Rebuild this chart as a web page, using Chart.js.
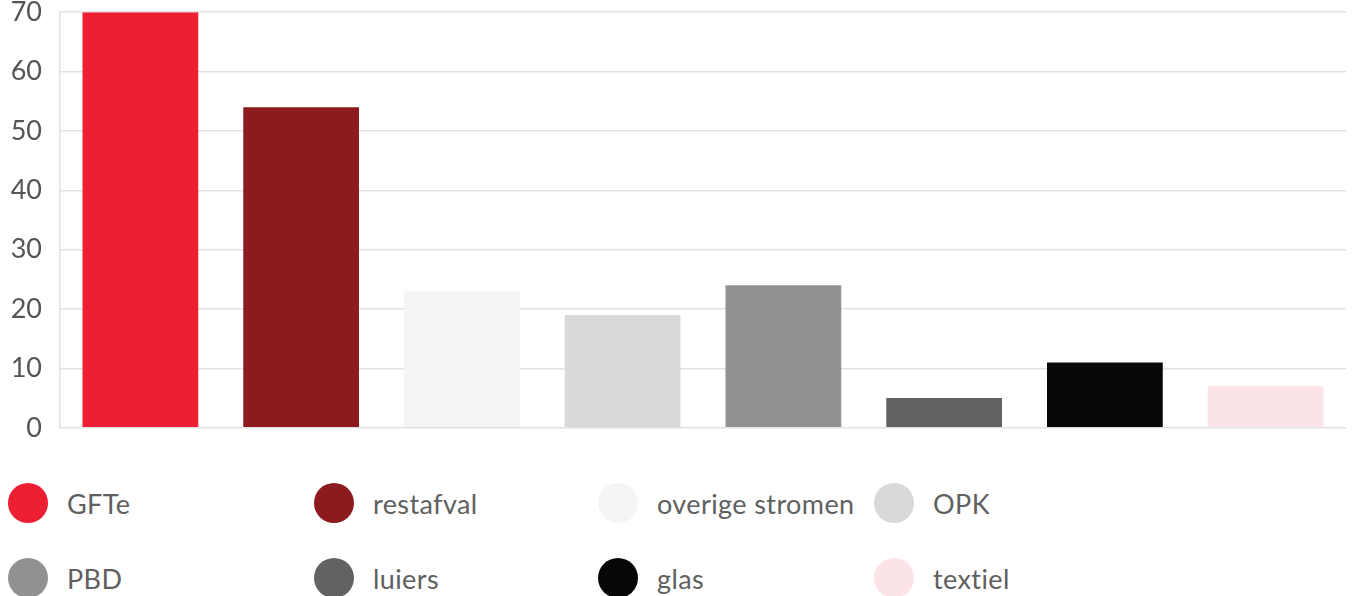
<!DOCTYPE html>
<html>
<head>
<meta charset="utf-8">
<script src="https://cdn.jsdelivr.net/npm/chart.js@4"></script>
<style>
  body { margin: 0; background: #fff; width: 1354px; height: 596px; overflow: hidden; font-family: "Lato", sans-serif; }
  #wrap { position: absolute; left: 0; top: -22px; width: 1354px; height: 484px; }
  #legend { position: absolute; left: 8px; top: 0; width: 1346px; }
  .item { position: absolute; display: flex; align-items: center; color: #606060; font-size: 27px; letter-spacing: 0.4px; }
  .dot { width: 40px; height: 40px; border-radius: 50%; margin-right: 19px; }
</style>
</head>
<body>
<div id="wrap"><canvas id="chart"></canvas></div>
<div id="legend"></div>
<script>
const categorieen = ["GFTe", "restafval", "overige stromen", "OPK", "PBD", "luiers", "glas", "textiel"];
const waarden = [70, 54, 23, 19, 24, 5, 11, 7];
const kleuren = ["#ed1f32", "#8c1a1f", "#f4f5f5", "#d9d9d9", "#919191", "#616362", "#060808", "#fce3e7"];
const yTicks = [0, 10, 20, 30, 40, 50, 60, 70];

// legenda posities (kolommen / rijen)
const kolomX = [0, 306, 590, 866];
const rijY = [483, 558];

const legend = document.getElementById("legend");
categorieen.forEach((c, i) => {
    const el = document.createElement("div");
    el.className = "item";
    el.style.left = kolomX[i % 4] + "px";
    el.style.top = rijY[Math.floor(i / 4)] + "px";
    el.innerHTML = `<span class="dot" style="background:${kleuren[i]}"></span><span>${c}</span>`;
    legend.appendChild(el);
});

new Chart(document.getElementById("chart"), {
    type: "bar",
    data: {
        labels: categorieen,
        datasets: [{ data: waarden, backgroundColor: kleuren, categoryPercentage: 1, barPercentage: 0.72 }]
    },
    options: {
        responsive: true,
        maintainAspectRatio: false,
        animation: false,
        layout: { padding: { top: 0, right: 8, bottom: 0, left: 0 } },
        plugins: { legend: { display: false }, tooltip: { enabled: false } },
        scales: {
            x: { display: false },
            y: {
                min: 0, max: 70,
                afterBuildTicks: (s) => { s.ticks = yTicks.map(v => ({ value: v })); },
                afterFit: (s) => { s.width = 60; },
                grid: { color: "#e2e2e2", lineWidth: 1.5, drawTicks: false },
                border: { display: true, color: "#e2e2e2", width: 1.5 },
                ticks: { color: "#555", padding: 18, font: { family: "Lato", size: 27 } }
            }
        }
    }
});
</script>
</body>
</html>
